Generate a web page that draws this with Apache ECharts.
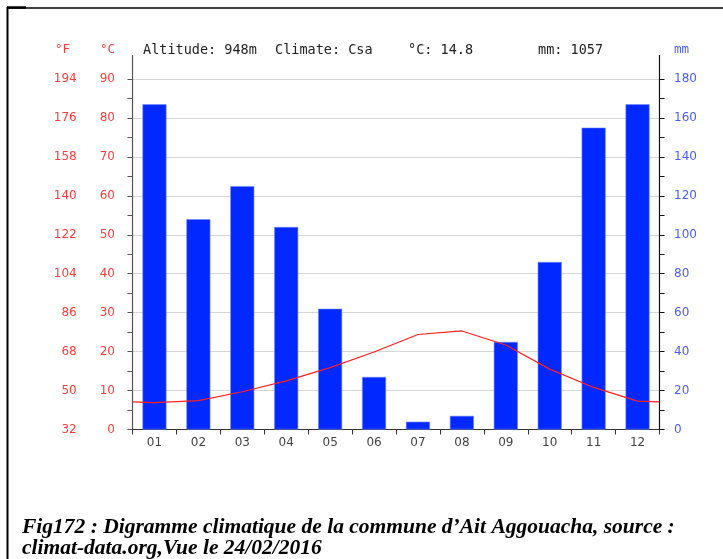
<!DOCTYPE html>
<html>
<head>
<meta charset="utf-8">
<script src="https://cdn.jsdelivr.net/npm/echarts@6/dist/echarts.min.js"></script>
<style>
  html, body { margin: 0; padding: 0; background: #ffffff; }
  #chart { width: 723px; height: 559px; }
</style>
</head>
<body>
<div id="chart"></div>
<script>
// Monthly climate data for Ait Aggouacha
const months = ['01', '02', '03', '04', '05', '06', '07', '08', '09', '10', '11', '12'];
const precipitationMm = [167, 108, 125, 104, 62, 27, 4, 7, 45, 86, 155, 167];
const temperatureC = [6.9, 7.4, 9.7, 12.5, 15.9, 19.9, 24.4, 25.3, 21.7, 15.5, 10.8, 7.3];

// Header and caption texts
const headerItems = ['Altitude: 948m', 'Climate: Csa', '°C: 14.8', 'mm: 1057'];
const captionLines = [
  'Fig172 : Digramme climatique de la commune d\u2019Ait Aggouacha, source :',
  'climat-data.org,Vue le 24/02/2016'
];

const RED = '#ff3a3a';
const BLUE = '#4a5cff';
const BAR = '#0028ff';
const MONO = '"DejaVu Sans Mono", monospace';
const SANS = '"DejaVu Sans", sans-serif';

// Temperature curve: one point per month centre, wrapping to the
// December/January mean at both edges of the year.
const edgeTemp = (temperatureC[0] + temperatureC[11]) / 2;
const tempPoints = [[0, edgeTemp]]
  .concat(temperatureC.map((t, i) => [i + 0.5, t]))
  .concat([[12, edgeTemp]]);

const chart = echarts.init(document.getElementById('chart'), null, { renderer: 'canvas' });

const headerX = [143, 275, 408, 538];

chart.setOption({
  animation: false,
  backgroundColor: '#ffffff',
  grid: { left: 132.5, right: 63.5, top: 79, bottom: 129.5, containLabel: false },
  xAxis: [
    {
      type: 'category',
      data: months,
      boundaryGap: true,
      axisLine: { lineStyle: { color: '#333333', width: 1 } },
      axisTick: { show: true, length: 5, lineStyle: { color: '#333333' } },
      axisLabel: { color: '#444444', fontFamily: SANS, fontSize: 12, margin: 7 },
      splitLine: { show: false }
    },
    {
      type: 'value',
      min: 0,
      max: 12,
      show: false
    }
  ],
  yAxis: [
    {
      type: 'value',
      position: 'left',
      min: 0,
      max: 90,
      interval: 10,
      axisLine: { show: true, lineStyle: { color: '#555555', width: 1.2 } },
      axisTick: { show: true, length: 5, lineStyle: { color: '#555555' } },
      minorTick: { show: true, splitNumber: 2, length: 5, lineStyle: { color: '#555555' } },
      splitLine: { show: true, lineStyle: { color: '#d6d6d6', width: 1 } },
      axisLabel: {
        margin: 17.5,
        formatter: function (v) {
          const f = Math.round(v * 1.8 + 32);
          return '{f|' + f + '}{c|' + v + '}';
        },
        rich: {
          f: { width: 30, align: 'right', color: RED, fontFamily: SANS, fontSize: 12 },
          c: { width: 38.3, align: 'right', color: RED, fontFamily: SANS, fontSize: 12 }
        }
      }
    },
    {
      type: 'value',
      position: 'right',
      min: 0,
      max: 180,
      interval: 20,
      axisLine: { show: true, lineStyle: { color: '#111111', width: 1.2 } },
      axisTick: { show: true, length: 5, lineStyle: { color: '#111111' } },
      minorTick: { show: true, splitNumber: 2, length: 5, lineStyle: { color: '#111111' } },
      splitLine: { show: false },
      axisLabel: { margin: 14.5, color: BLUE, fontFamily: SANS, fontSize: 12 }
    }
  ],
  series: [
    {
      name: 'Précipitations',
      type: 'bar',
      xAxisIndex: 0,
      yAxisIndex: 1,
      data: precipitationMm,
      barWidth: 24,
      itemStyle: { color: BAR, borderColor: '#6f86ff', borderWidth: 0.6 },
      z: 2
    },
    {
      name: 'Température',
      type: 'line',
      xAxisIndex: 1,
      yAxisIndex: 0,
      data: tempPoints,
      showSymbol: false,
      symbol: 'none',
      smooth: false,
      lineStyle: { color: '#ff2020', width: 1.2 },
      z: 3
    }
  ],
  graphic: [
    // frame
    { type: 'line', shape: { x1: 7, y1: 8, x2: 723, y2: 8 }, style: { stroke: '#000', lineWidth: 1.5 } },
    { type: 'line', shape: { x1: 7, y1: 7.5, x2: 26, y2: 7.5 }, style: { stroke: '#000', lineWidth: 2.5 } },
    { type: 'line', shape: { x1: 7.5, y1: 7, x2: 7.5, y2: 559 }, style: { stroke: '#000', lineWidth: 2 } },
    // axis lines reaching above the top grid line
    { type: 'line', shape: { x1: 132.5, y1: 55, x2: 132.5, y2: 79 }, style: { stroke: '#555555', lineWidth: 1.2 } },
    { type: 'line', shape: { x1: 659.5, y1: 55, x2: 659.5, y2: 79 }, style: { stroke: '#111111', lineWidth: 1.2 } },
    // unit labels
    { type: 'text', x: 55, y: 50, style: { text: '°F', fill: RED, font: '12.5px ' + MONO, textVerticalAlign: 'middle' } },
    { type: 'text', x: 100, y: 50, style: { text: '°C', fill: RED, font: '12.5px ' + MONO, textVerticalAlign: 'middle' } },
    { type: 'text', x: 674, y: 50, style: { text: 'mm', fill: BLUE, font: '12.5px ' + MONO, textVerticalAlign: 'middle' } }
  ]
    .concat(headerItems.map((t, i) => ({
      type: 'text', x: headerX[i], y: 50,
      style: { text: t, fill: '#222222', font: '13.5px ' + MONO, textVerticalAlign: 'middle' }
    })))
    .concat(captionLines.map((t, i) => ({
      type: 'text', x: 22, y: 527 + i * 21,
      style: { text: t, fill: '#000000', font: 'italic bold 21.5px "Liberation Serif", serif', textVerticalAlign: 'middle' }
    })))
});
</script>
</body>
</html>
